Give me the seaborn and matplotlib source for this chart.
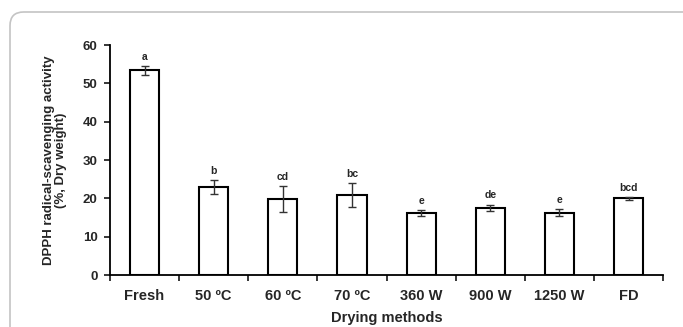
import pandas as pd
import numpy as np
import matplotlib
matplotlib.use("Agg")
import matplotlib.pyplot as plt
from matplotlib.patches import FancyBboxPatch
import seaborn as sns

methods = ["Fresh", "50 ºC", "60 ºC", "70 ºC", "360 W", "900 W", "1250 W", "FD"]
dpph = [53.4, 22.9, 19.8, 20.9, 16.1, 17.6, 16.3, 20.0]
dpph_sd = [1.1, 1.8, 3.4, 3.2, 0.8, 0.8, 1.0, 0.3]
letters = ["a", "b", "cd", "bc", "e", "de", "e", "bcd"]

df = pd.DataFrame({"method": methods, "dpph": dpph, "sd": dpph_sd})

sns.set_style("white")
plt.rcParams["font.family"] = ["Liberation Sans", "DejaVu Sans"]
plt.rcParams["font.weight"] = "bold"

fig = plt.figure(figsize=(6.83, 3.27), dpi=100)
ax = fig.add_axes([0.161, 0.159, 0.810, 0.703])

sns.barplot(
    data=df,
    x="method",
    y="dpph",
    order=methods,
    color="white",
    edgecolor="black",
    linewidth=1.5,
    width=0.42,
    errorbar=None,
    ax=ax
)

ax.errorbar(
    np.arange(len(methods)),
    df["dpph"],
    yerr=df["sd"],
    fmt="none",
    ecolor="#333333",
    elinewidth=1.0,
    capsize=3,
    capthick=1.0
)

# significance letters
for i, (v, e, lab) in enumerate(zip(dpph, dpph_sd, letters)):
    ax.annotate(
        lab,
        (i, v + e),
        xytext=(0, 3),
        textcoords="offset points",
        ha="center",
        va="bottom",
        fontsize=7.5,
        fontweight="bold"
    )

ax.set_xlim(-0.5, len(methods) - 0.5)
ax.set_ylim(0, 60)
ax.set_yticks(range(0, 61, 10))

sns.despine(ax=ax)
for side in ["left", "bottom"]:
    ax.spines[side].set_linewidth(1.3)
    ax.spines[side].set_color("black")

ax.tick_params(axis="y", direction="out", length=4, width=1.3, pad=5,
               labelsize=9.5, left=True)
ax.tick_params(axis="x", which="major", length=0, pad=10, labelsize=10.5)
ax.set_xticks(np.arange(-0.5, len(methods)), minor=True)
ax.tick_params(axis="x", which="minor", direction="out", length=4,
               width=1.3, bottom=True)

for t in ax.get_xticklabels() + ax.get_yticklabels():
    t.set_fontweight("bold")

ax.set_xlabel("Drying methods", fontsize=10.5, fontweight="bold", labelpad=6)
ax.set_ylabel("DPPH radical-scavenging activity\n(%, Dry weight)",
              fontsize=9.5, fontweight="bold", labelpad=11, linespacing=1.0)

border = FancyBboxPatch(
    (10 / 683, -0.2), 1.2, 1.2 - 12 / 327,
    boxstyle="round,pad=0,rounding_size=0.02",
    transform=fig.transFigure,
    facecolor="none",
    edgecolor="#c4c4c4",
    linewidth=1.2,
    mutation_aspect=683 / 327,
    clip_on=False
)
fig.patches.append(border)

fig.savefig("out.png", dpi=100)
